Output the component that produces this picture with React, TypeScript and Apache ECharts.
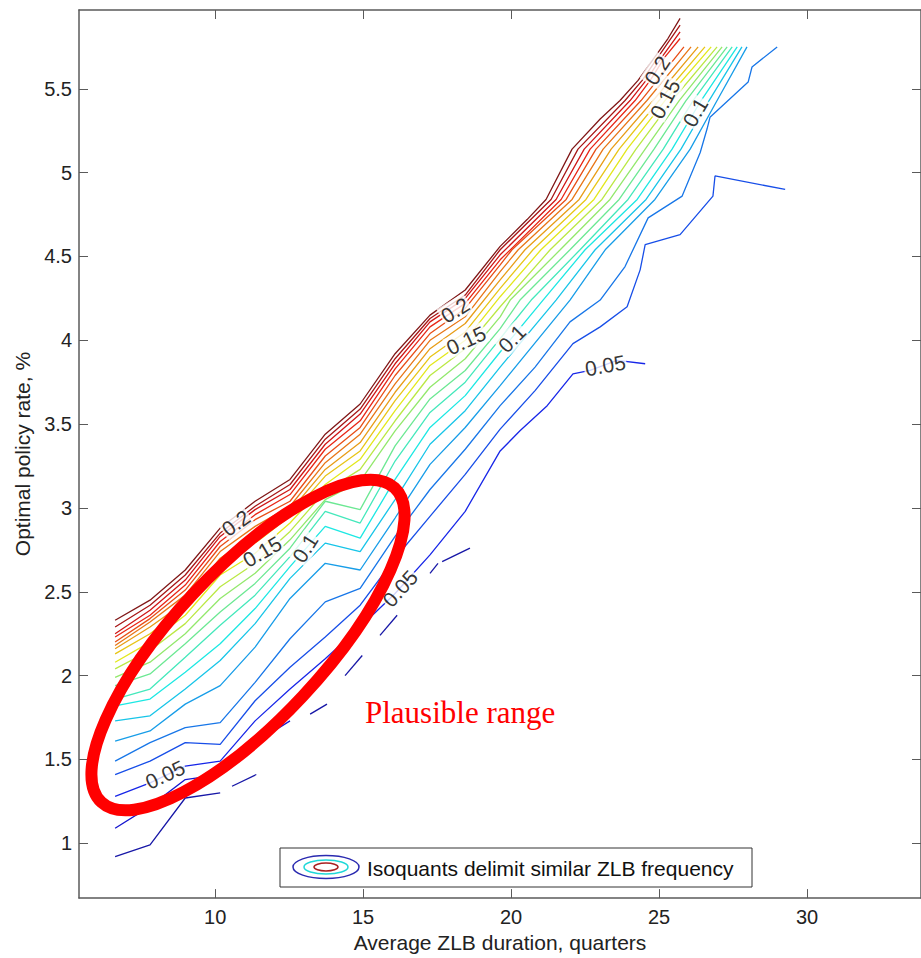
import React, { useEffect, useRef } from "react";
import * as echarts from "echarts";

// ---- axis ticks ----
const xTicks = [10, 15, 20, 25, 30];
const yTicks = [1, 1.5, 2, 2.5, 3, 3.5, 4, 4.5, 5, 5.5];

// ---- isoquants (x: average ZLB duration, y: optimal policy rate) ----
const iso023 = [[6.62,2.33],[7.80,2.45],[8.99,2.63],[10.17,2.88],[11.35,3.04],[12.53,3.17],[13.72,3.44],[14.90,3.62],[16.08,3.92],[17.26,4.15],[18.45,4.30],[19.63,4.56],[20.54,4.72],[21.18,4.84],[22.06,5.14],[23.01,5.32],[23.68,5.43],[24.29,5.55],[24.86,5.69],[25.30,5.80],[25.71,5.92]];
const iso022 = [[6.62,2.29],[7.80,2.42],[8.99,2.60],[10.17,2.85],[11.35,3.01],[12.53,3.14],[13.72,3.41],[14.90,3.59],[16.08,3.89],[17.26,4.13],[18.45,4.27],[19.63,4.54],[21.35,4.84],[22.26,5.14],[23.85,5.43],[24.43,5.55],[24.97,5.69],[25.71,5.88]];
const iso021 = [[6.62,2.25],[7.80,2.39],[8.99,2.57],[10.17,2.83],[11.35,2.99],[12.53,3.11],[13.72,3.38],[14.90,3.56],[16.08,3.86],[17.26,4.11],[18.45,4.25],[19.63,4.51],[21.52,4.84],[22.47,5.14],[24.02,5.43],[24.56,5.55],[25.10,5.69],[25.71,5.84]];
const iso020 = [[6.62,2.23],[7.80,2.36],[8.99,2.54],[10.17,2.80],[11.35,2.96],[12.53,3.08],[13.72,3.35],[14.90,3.52],[16.08,3.83],[17.26,4.08],[18.45,4.22],[19.63,4.48],[21.69,4.84],[22.67,5.14],[24.19,5.43],[24.70,5.55],[25.20,5.69],[25.71,5.80]];
const iso019 = [[6.62,2.20],[7.80,2.34],[8.99,2.51],[10.17,2.77],[11.35,2.93],[12.53,3.04],[13.72,3.31],[14.90,3.48],[16.08,3.79],[17.26,4.04],[18.45,4.19],[19.63,4.45],[20.03,4.54],[21.86,4.84],[22.87,5.14],[24.39,5.43],[25.84,5.75]];
const iso018 = [[6.62,2.18],[7.80,2.32],[8.99,2.48],[10.17,2.74],[11.35,2.89],[12.53,3.01],[13.72,3.27],[14.90,3.44],[16.08,3.74],[17.26,4.00],[18.45,4.14],[19.63,4.41],[20.24,4.54],[22.06,4.84],[23.11,5.14],[24.59,5.43],[26.08,5.75]];
const iso017 = [[6.62,2.16],[7.80,2.29],[8.99,2.44],[10.17,2.70],[11.35,2.84],[12.53,2.98],[13.72,3.23],[14.90,3.39],[16.08,3.69],[17.26,3.95],[18.45,4.10],[19.63,4.36],[20.47,4.54],[22.30,4.84],[23.38,5.14],[24.80,5.43],[26.32,5.75]];
const iso016 = [[6.62,2.13],[7.80,2.25],[8.99,2.41],[10.17,2.65],[11.35,2.79],[12.53,2.95],[13.72,3.19],[14.90,3.34],[16.08,3.64],[17.26,3.90],[18.45,4.05],[19.63,4.31],[20.74,4.54],[22.53,4.84],[23.65,5.14],[25.00,5.43],[26.55,5.75]];
const iso015 = [[6.62,2.08],[7.80,2.20],[8.99,2.36],[10.17,2.60],[11.35,2.73],[12.53,2.91],[13.72,3.14],[14.90,3.29],[16.08,3.58],[17.26,3.85],[18.45,4.00],[19.63,4.26],[21.01,4.54],[22.80,4.84],[23.92,5.14],[25.20,5.43],[26.76,5.75]];
const iso014 = [[6.62,2.04],[7.80,2.15],[8.99,2.31],[10.17,2.53],[11.35,2.67],[12.53,2.86],[13.72,3.10],[14.90,3.23],[16.08,3.52],[17.26,3.79],[18.45,3.95],[19.63,4.20],[21.32,4.54],[23.07,4.84],[24.22,5.14],[25.44,5.43],[26.96,5.75]];
const iso013 = [[6.62,1.99],[7.80,2.08],[8.99,2.25],[10.17,2.46],[11.35,2.61],[12.53,2.81],[13.72,3.05],[14.90,3.16],[16.08,3.46],[17.26,3.72],[18.45,3.89],[19.63,4.14],[19.97,4.24],[21.66,4.54],[23.34,4.84],[24.53,5.14],[25.68,5.43],[27.13,5.75]];
const iso012 = [[6.62,1.94],[7.80,2.01],[8.99,2.19],[10.17,2.38],[11.35,2.55],[12.53,2.76],[13.72,3.04],[14.90,2.99],[16.08,3.37],[17.26,3.65],[18.45,3.82],[19.63,4.07],[20.30,4.24],[21.99,4.54],[23.65,4.84],[24.83,5.14],[25.91,5.43],[27.30,5.75]];
const iso011 = [[6.62,1.86],[7.80,1.92],[8.99,2.11],[10.17,2.30],[11.35,2.48],[12.53,2.71],[13.72,2.98],[14.90,2.91],[16.08,3.28],[17.26,3.57],[18.45,3.75],[19.63,4.01],[20.68,4.24],[22.33,4.54],[23.95,4.84],[25.14,5.14],[26.15,5.43],[27.47,5.75]];
const iso010 = [[6.62,1.82],[7.80,1.86],[8.99,2.02],[10.17,2.19],[11.35,2.40],[12.53,2.65],[13.72,2.89],[14.90,2.82],[16.08,3.17],[17.26,3.48],[18.45,3.67],[19.63,3.93],[21.08,4.24],[22.50,4.54],[24.26,4.84],[25.44,5.14],[26.42,5.43],[27.64,5.75]];
const iso009 = [[6.62,1.73],[7.80,1.76],[8.99,1.92],[10.17,2.09],[11.35,2.31],[12.53,2.58],[13.72,2.79],[14.90,2.74],[16.08,3.05],[17.26,3.38],[18.45,3.58],[19.63,3.84],[21.52,4.24],[22.84,4.54],[24.56,4.84],[25.74,5.14],[26.69,5.43],[27.80,5.75]];
const iso008 = [[6.62,1.61],[7.80,1.67],[8.99,1.83],[10.17,1.94],[11.35,2.17],[12.53,2.46],[13.72,2.67],[14.90,2.63],[16.08,2.94],[17.26,3.26],[18.45,3.48],[19.63,3.73],[21.99,4.24],[23.18,4.54],[24.86,4.84],[26.05,5.14],[26.96,5.43],[27.97,5.75]];
const iso007 = [[6.62,1.49],[7.80,1.60],[8.99,1.69],[10.17,1.72],[11.35,1.96],[12.53,2.22],[13.72,2.44],[14.90,2.52],[16.08,2.83],[17.26,3.11],[18.45,3.35],[19.63,3.61],[20.81,3.84],[21.99,4.11],[23.01,4.24],[23.85,4.44],[24.63,4.73],[25.78,4.86],[26.39,5.12],[26.62,5.26],[26.72,5.33],[28.01,5.54],[28.14,5.63],[28.99,5.75]];
const iso006 = [[6.62,1.41],[7.80,1.49],[8.99,1.60],[10.17,1.59],[11.35,1.85],[12.53,2.05],[13.72,2.23],[14.90,2.42],[16.08,2.70],[17.26,2.95],[18.45,3.20],[19.63,3.47],[20.81,3.70],[22.09,3.98],[23.01,4.08],[23.92,4.20],[24.36,4.42],[24.53,4.57],[25.71,4.63],[26.82,4.86],[26.89,4.98],[29.26,4.90]];
const iso005 = [[6.62,1.28],[7.80,1.36],[8.99,1.46],[10.17,1.49],[11.35,1.73],[12.53,1.92],[13.72,2.10],[14.90,2.29],[16.08,2.49],[17.26,2.72],[18.45,2.98],[19.63,3.34],[20.30,3.46],[21.22,3.61],[22.09,3.80],[22.67,3.82],[23.58,3.88],[24.53,3.86]];
const iso004 = [[6.62,1.09],[7.80,1.22],[8.99,1.38],[10.17,1.41],[11.35,1.60],[12.53,1.73]];
const iso003a = [[6.62,0.92],[7.80,0.99],[8.99,1.27],[10.17,1.30]];
const iso003b = [[10.57,1.34],[11.39,1.41]];
const iso003c = [[13.21,1.77],[13.78,1.83]];
const iso003d = [[14.39,2.00],[14.97,2.12]];
const iso003e = [[15.57,2.24],[16.15,2.36]];
const iso003f = [[17.26,2.61],[17.53,2.67]];
const iso003g = [[17.67,2.68],[18.61,2.76]];

const isoLevels = [0.23,0.22,0.21,0.20,0.19,0.18,0.17,0.16,0.15,0.14,0.13,0.12,0.11,0.10,0.09,0.08,0.07,0.06,0.05,0.04,0.03];
const isoSegments = [
  [iso023],[iso022],[iso021],[iso020],[iso019],[iso018],[iso017],[iso016],[iso015],[iso014],
  [iso013],[iso012],[iso011],[iso010],[iso009],[iso008],[iso007],[iso006],[iso005],[iso004],
  [iso003a, iso003b, iso003c, iso003d, iso003e, iso003f, iso003g],
];

// ---- contour labels ----
const labelTexts = ["0.2","0.15","0.1","0.05","0.05","0.2","0.15","0.1","0.05","0.2","0.15","0.1"];
const labelX = [10.70, 11.59, 13.04, 8.31, 16.25, 18.11, 18.48, 20.03, 23.18, 24.93, 25.20, 26.22];
const labelY = [2.91, 2.74, 2.76, 1.41, 2.52, 4.18, 4.00, 4.01, 3.85, 5.61, 5.44, 5.36];
const labelAngles = [35, 30, 58, 25, 48, 32, 25, 45, 10, 58, 62, 60];

const FONT = "'Liberation Sans', Arial, Helvetica, sans-serif";
const SERIF = "'Liberation Serif', 'Times New Roman', serif";
const C_MIN = 0.02;
const C_MAX = 0.23;

function jet(level: number): string {
  const t = (level - C_MIN) / (C_MAX - C_MIN);
  const cl = (v: number) => Math.max(0, Math.min(1, v));
  const r = cl(1.5 - Math.abs(4 * t - 3));
  const g = cl(1.5 - Math.abs(4 * t - 2));
  const b = cl(1.5 - Math.abs(4 * t - 1));
  const mix = (v: number) => Math.round((v * 0.82 + 0.5 * 0.18) * 255);
  return `rgb(${mix(r)},${mix(g)},${mix(b)})`;
}

export default function App() {
  const ref = useRef<HTMLDivElement>(null);
  useEffect(() => {
    if (!ref.current) return;
    const chart = echarts.init(ref.current, null, { renderer: "svg" });
    const axisColor = "#5a5a5a";
    const xMin = 5.4, xMax = 33.85, yMin = 0.673, yMax = 5.97;

    const lineSeries: any[] = [];
    isoLevels.forEach((lv, i) => {
      isoSegments[i].forEach((seg) => {
        lineSeries.push({
          type: "line",
          data: seg,
          xAxisIndex: 0,
          yAxisIndex: 0,
          showSymbol: false,
          symbol: "none",
          silent: true,
          lineStyle: { color: jet(lv), width: 1.3 },
          z: 2,
        });
      });
    });

    const labelSeries = {
      type: "scatter",
      xAxisIndex: 0,
      yAxisIndex: 0,
      symbolSize: 1,
      silent: true,
      itemStyle: { color: "rgba(0,0,0,0)" },
      z: 5,
      label: {
        show: true,
        position: "inside",
        formatter: "{b}",
        fontSize: 21,
        fontFamily: FONT,
        color: "#000",
        backgroundColor: "#fff",
        padding: [0, 1],
      },
      data: labelTexts.map((t, i) => ({
        name: t,
        value: [labelX[i], labelY[i]],
        label: { rotate: labelAngles[i] },
      })),
    };

    const axisCommon = {
      type: "value",
      splitLine: { show: false },
      axisLine: { show: true, onZero: false, lineStyle: { color: axisColor, width: 1.5 } },
    };

    chart.setOption({
      animation: false,
      backgroundColor: "#fff",
      textStyle: { fontFamily: FONT },
      grid: { left: 79, right: 0, top: 10, bottom: 58, containLabel: false },
      xAxis: [
        {
          ...axisCommon,
          min: xMin,
          max: xMax,
          position: "bottom",
          axisTick: { inside: true, length: 9, customValues: xTicks, lineStyle: { color: axisColor } },
          axisLabel: { customValues: xTicks, fontSize: 20, margin: 9, color: "#222", fontFamily: FONT },
          name: "Average ZLB duration, quarters",
          nameLocation: "middle",
          nameGap: 31,
          nameTextStyle: { fontSize: 21, color: "#222", fontFamily: FONT },
        },
        {
          ...axisCommon,
          min: xMin,
          max: xMax,
          position: "top",
          axisTick: { inside: true, length: 9, customValues: xTicks, lineStyle: { color: axisColor } },
          axisLabel: { show: false },
        },
      ],
      yAxis: [
        {
          ...axisCommon,
          min: yMin,
          max: yMax,
          position: "left",
          axisTick: { inside: true, length: 9, customValues: yTicks, lineStyle: { color: axisColor } },
          axisLabel: { customValues: yTicks, fontSize: 20, margin: 7, color: "#222", fontFamily: FONT },
          name: "Optimal policy rate, %",
          nameLocation: "middle",
          nameGap: 46,
          nameTextStyle: { fontSize: 21, color: "#222", fontFamily: FONT },
        },
        {
          ...axisCommon,
          min: yMin,
          max: yMax,
          position: "right",
          axisTick: { inside: true, length: 9, customValues: yTicks, lineStyle: { color: axisColor } },
          axisLabel: { show: false },
        },
      ],
      series: [...lineSeries, labelSeries],
      graphic: [
        {
          type: "ellipse",
          x: 248,
          y: 645,
          rotation: (47 * Math.PI) / 180,
          shape: { cx: 0, cy: 0, rx: 215, ry: 75 },
          style: { fill: "transparent", stroke: "#ff0000", lineWidth: 12 },
          z: 100,
          silent: true,
        },
        {
          type: "text",
          x: 365,
          y: 712,
          style: {
            text: "Plausible range",
            fill: "#ff0000",
            font: `31px ${SERIF}`,
            verticalAlign: "middle",
            align: "left",
          },
          z: 100,
        },
        {
          type: "rect",
          shape: { x: 280, y: 848, width: 472, height: 39 },
          style: { fill: "#fff", stroke: "#333", lineWidth: 1 },
          z: 100,
        },
        {
          type: "ellipse",
          shape: { cx: 326, cy: 867, rx: 33, ry: 11.5 },
          style: { fill: "transparent", stroke: "#2a2ab0", lineWidth: 1.5 },
          z: 101,
        },
        {
          type: "ellipse",
          shape: { cx: 326, cy: 867, rx: 22, ry: 7 },
          style: { fill: "transparent", stroke: "#20d8d8", lineWidth: 1.5 },
          z: 101,
        },
        {
          type: "ellipse",
          shape: { cx: 326, cy: 867, rx: 12, ry: 4 },
          style: { fill: "transparent", stroke: "#a82020", lineWidth: 1.5 },
          z: 101,
        },
        {
          type: "text",
          x: 367,
          y: 868,
          style: {
            text: "Isoquants delimit similar ZLB frequency",
            fill: "#111",
            font: `21px ${FONT}`,
            verticalAlign: "middle",
            align: "left",
          },
          z: 101,
        },
      ],
    });
    return () => chart.dispose();
  }, []);
  return (
    <div
      ref={ref}
      style={{ position: "fixed", left: 0, top: 0, width: 921, height: 958, background: "#fff" }}
    />
  );
}
